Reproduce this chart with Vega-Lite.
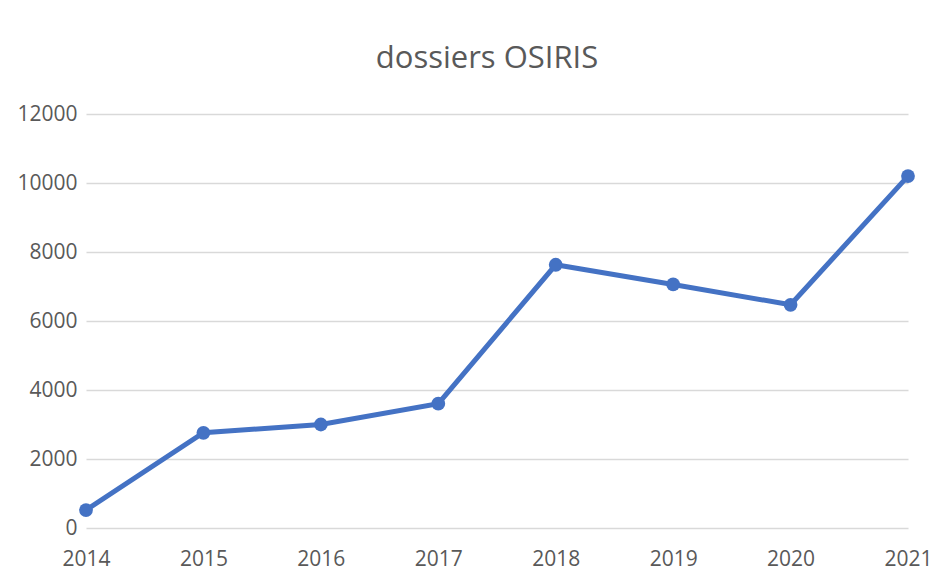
{
  "$schema": "https://vega.github.io/schema/vega-lite/v6.json",
  "width": 822,
  "height": 414,
  "autosize": "none",
  "padding": {"left": 86, "top": 114, "right": 44, "bottom": 50},
  "background": "white",
  "title": {
    "text": "dossiers OSIRIS",
    "font": "Open Sans",
    "fontSize": 31,
    "fontWeight": "normal",
    "color": "#595959",
    "anchor": "middle",
    "dx": -10,
    "offset": 28
  },
  "data": {
    "values": [
      {"year": "2014", "dossiers": 520},
      {"year": "2015", "dossiers": 2760},
      {"year": "2016", "dossiers": 3000},
      {"year": "2017", "dossiers": 3605},
      {"year": "2018", "dossiers": 7630},
      {"year": "2019", "dossiers": 7060},
      {"year": "2020", "dossiers": 6470},
      {"year": "2021", "dossiers": 10200}
    ]
  },
  "mark": {
    "type": "line",
    "color": "#4472C4",
    "strokeWidth": 5,
    "point": {"filled": true, "size": 190, "color": "#4472C4", "opacity": 1}
  },
  "encoding": {
    "x": {
      "field": "year",
      "type": "ordinal",
      "scale": {"type": "point", "padding": 0},
      "axis": {
        "title": null,
        "labelAngle": 0,
        "domain": false,
        "ticks": false,
        "labelPadding": 20,
        "labelFont": "Open Sans",
        "labelFontSize": 21,
        "labelColor": "#595959"
      }
    },
    "y": {
      "field": "dossiers",
      "type": "quantitative",
      "scale": {"domain": [0, 12000], "nice": false},
      "axis": {
        "title": null,
        "values": [0, 2000, 4000, 6000, 8000, 10000, 12000],
        "format": "d",
        "domain": false,
        "ticks": false,
        "labelPadding": 9,
        "labelFont": "Open Sans",
        "labelFontSize": 21,
        "labelColor": "#595959",
        "gridColor": "#d9d9d9",
        "gridWidth": 1.3
      }
    }
  },
  "config": {
    "view": {"stroke": null},
    "axisX": {"grid": false}
  }
}
